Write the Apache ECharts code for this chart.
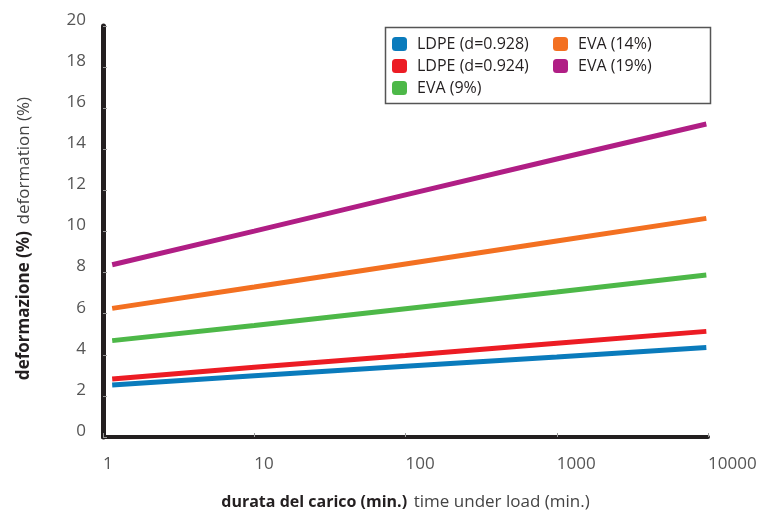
<!DOCTYPE html>
<html>
<head>
<meta charset="utf-8">
<script src="https://cdn.jsdelivr.net/npm/echarts@6/dist/echarts.min.js"></script>
<style>html,body{margin:0;padding:0;background:#fff}#c{width:765px;height:514px}</style>
</head>
<body>
<div id="c"></div>
<script>
// Data (x = load duration in minutes, log scale)
const xPoints = [1.15, 10, 100, 1000, 9750];
const ldpe928 = [2.53, 2.98, 3.44, 3.89, 4.36];
const ldpe924 = [2.82, 3.39, 3.97, 4.56, 5.14];
const eva9 = [4.69, 5.43, 6.24, 7.06, 7.88];
const eva14 = [6.26, 7.30, 8.42, 9.54, 10.64];
const eva19 = [8.38, 10.02, 11.78, 13.53, 15.23];
const seriesNames = ['LDPE (d=0.928)', 'LDPE (d=0.924)', 'EVA (9%)', 'EVA (14%)', 'EVA (19%)'];
const seriesValues = [ldpe928, ldpe924, eva9, eva14, eva19];
const colors = ['#0A7BBC', '#EC1C24', '#4DB848', '#F37021', '#B01E85'];

const chart = echarts.init(document.getElementById('c'));
const font = '"Open Sans", "Noto Sans", sans-serif';
const legendText = { fontFamily: font, fontSize: 16, color: '#231f20', padding: [0, 0, 0, 5] };
chart.setOption({
  animation: false,
  color: colors,
  grid: { left: 103, right: 57, top: 26, bottom: 77, containLabel: false, outerBoundsMode: 'none' },
  legend: [
    {
      left: 392, top: 36, padding: 0, orient: 'vertical', itemWidth: 15, itemHeight: 14, itemGap: 6,
      icon: 'roundRect', data: seriesNames.slice(0, 3), textStyle: legendText
    },
    {
      left: 553, top: 36, padding: 0, orient: 'vertical', itemWidth: 15, itemHeight: 14, itemGap: 6,
      icon: 'roundRect', data: seriesNames.slice(3), textStyle: legendText
    }
  ],
  graphic: [{
    type: 'rect', left: 383, top: 25, shape: { width: 325, height: 76 },
    style: { fill: 'none', stroke: '#555', lineWidth: 1.5 }, z: 100
  }],
  xAxis: {
    type: 'log', logBase: 10, min: 1, max: 10000,
    name: '{b|durata del carico (min.)}  {r|time under load (min.)}',
    nameLocation: 'middle', nameGap: 57,
    nameTextStyle: {
      rich: {
        b: { fontFamily: font, fontWeight: 'bold', fontSize: 16, color: '#231f20' },
        r: { fontFamily: font, fontWeight: 'normal', fontSize: 17, color: '#444' }
      }
    },
    axisLine: { show: true, lineStyle: { color: '#231f20', width: 4 } },
    axisTick: { show: true, inside: true, length: 4, lineStyle: { color: '#999', width: 1 } },
    minorTick: { show: false },
    splitLine: { show: false },
    axisLabel: {
      align: 'left', margin: 19, fontFamily: font, fontSize: 17, color: '#555',
      formatter: v => String(v)
    }
  },
  yAxis: {
    type: 'value', min: 0, max: 20, interval: 2,
    name: '{b|deformazione (%)}  {r|deformation (%)}{s| }',
    nameLocation: 'middle', nameRotate: 90, nameGap: 70,
    nameTextStyle: {
      rich: {
        b: { fontFamily: font, fontWeight: 'bold', fontSize: 17, color: '#231f20' },
        r: { fontFamily: font, fontWeight: 'normal', fontSize: 17, color: '#444' },
        s: { width: 14, fontSize: 17 }
      }
    },
    axisLine: { show: true, lineStyle: { color: '#231f20', width: 5 } },
    axisTick: { show: true, inside: true, length: 4, lineStyle: { color: '#999', width: 1 } },
    splitLine: { show: false },
    axisLabel: {
      margin: 17, fontFamily: font, fontSize: 17, color: '#555',
      verticalAlign: 'bottom', lineHeight: 12
    }
  },
  series: seriesNames.map((n, i) => ({
    name: n, type: 'line', showSymbol: false, symbol: 'none',
    lineStyle: { width: 5, color: colors[i] },
    itemStyle: { color: colors[i] },
    data: xPoints.map((x, j) => [x, seriesValues[i][j]])
  }))
});
</script>
</body>
</html>
